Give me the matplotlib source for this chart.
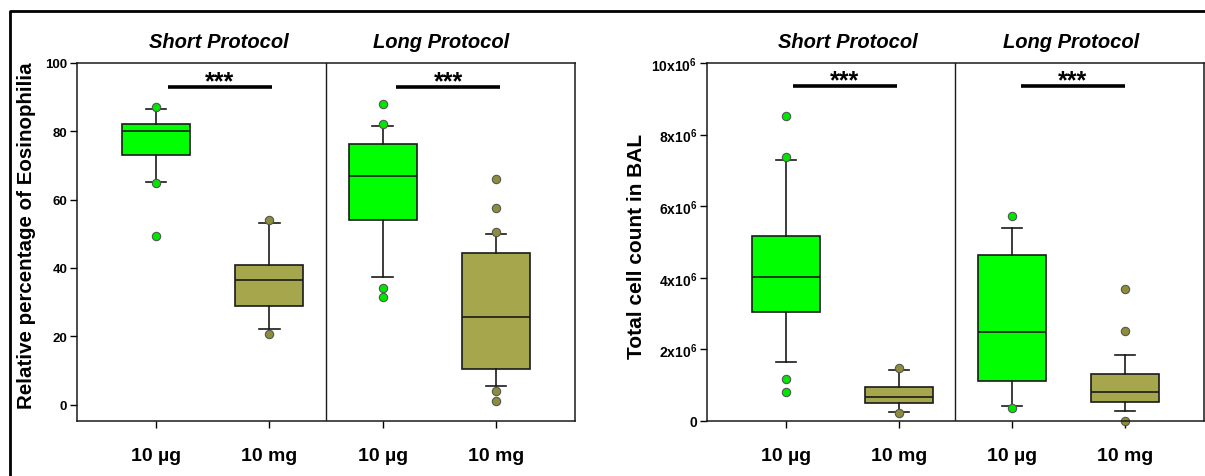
import numpy as np
import matplotlib.pyplot as plt
from matplotlib.lines import Line2D

plt.rcParams['font.family'] = ['Liberation Sans', 'DejaVu Sans']
plt.rcParams['mathtext.fontset'] = 'custom'
plt.rcParams['mathtext.bf'] = 'Liberation Sans:bold'
plt.rcParams['mathtext.rm'] = 'Liberation Sans:bold'
plt.rcParams['mathtext.default'] = 'bf'

# groups, left to right: short 10 ug, short 10 mg, long 10 ug, long 10 mg
doses = ['10 µg', '10 mg', '10 µg', '10 mg']
protocols = ['Short Protocol', 'Long Protocol']

# eosinophilia (%) box stats
eos_q1 = [73.2, 28.9, 54.1, 10.5]
eos_med = [80.0, 36.4, 66.9, 25.5]
eos_q3 = [82.2, 41.0, 76.2, 44.3]
eos_lo = [65.3, 22.2, 37.3, 5.3]
eos_hi = [86.6, 53.3, 81.5, 50.0]
eos_fliers = [[87.1, 65.0, 49.4],
              [54.1, 20.8],
              [88.1, 82.2, 34.2, 31.6],
              [65.9, 57.6, 50.5, 4.1, 1.0]]
eos_ticks = [0, 20, 40, 60, 80, 100]

# total cell count in BAL (x10^6)
bal_q1 = [3.05, 0.50, 1.11, 0.53]
bal_med = [4.01, 0.67, 2.48, 0.82]
bal_q3 = [5.17, 0.96, 4.65, 1.32]
bal_lo = [1.64, 0.24, 0.43, 0.28]
bal_hi = [7.30, 1.43, 5.40, 1.85]
bal_fliers = [[8.52, 7.37, 1.18, 0.81],
              [1.47, 0.22],
              [5.73, 0.37],
              [3.70, 2.52, 0.0]]
bal_ticks = [0, 2, 4, 6, 8, 10]
bal_tick_labels = ['0', '2x10$^{6}$', '4x10$^{6}$', '6x10$^{6}$', '8x10$^{6}$', '10x10$^{6}$']

green = '#00FF00'
olive = '#A6A64C'
box_colors = [green, olive, green, olive]
flier_faces = ['#00E600', '#8E8E3A', '#00E600', '#8E8E3A']


def make_stats(q1, med, q3, lo, hi, fl, scale=1.0):
    stats = []
    for i in range(len(q1)):
        stats.append(dict(q1=q1[i] * scale, med=med[i] * scale, q3=q3[i] * scale,
                          whislo=lo[i] * scale, whishi=hi[i] * scale,
                          fliers=np.array(fl[i]) * scale))
    return stats


def draw_panel(ax, stats, ylim, bar_y, bar_x):
    pos = np.arange(len(stats))
    bp = ax.bxp(stats, positions=pos, widths=0.6, capwidths=0.18, patch_artist=True,
                showfliers=True,
                boxprops=dict(edgecolor='#1a1a1a', linewidth=1.2),
                medianprops=dict(color='#1a1a1a', linewidth=1.2),
                whiskerprops=dict(color='#1a1a1a', linewidth=1.2),
                capprops=dict(color='#1a1a1a', linewidth=1.2))
    for i, b in enumerate(bp['boxes']):
        b.set_facecolor(box_colors[i])
    for i, f in enumerate(bp['fliers']):
        f.set(marker='o', markersize=6, markerfacecolor=flier_faces[i],
              markeredgecolor='#555555', markeredgewidth=0.8, clip_on=False)
    ax.set_xlim(-0.70, 3.70)
    ax.set_ylim(*ylim)
    ax.axvline(1.5, color='#1a1a1a', linewidth=1.0)
    ax.set_xticks(pos)
    ax.set_xticklabels(doses, fontsize=14, fontweight='bold')
    ax.tick_params(axis='x', direction='out', length=5, width=1.0, pad=14)
    ax.tick_params(axis='y', direction='out', length=5, width=1.0, pad=2)
    for s in ax.spines.values():
        s.set_linewidth(1.1)
        s.set_color('#1a1a1a')
    # significance bars
    for x0 in bar_x:
        ax.plot([x0, x0 + 0.92], [bar_y, bar_y], color='black', linewidth=2.6,
                solid_capstyle='butt', clip_on=False)
        ax.annotate('***', xy=(x0 + 0.46, bar_y), xytext=(0, -1.2),
                    textcoords='offset points', ha='center', va='baseline',
                    fontsize=18, fontweight='bold')
    for k, name in enumerate(protocols):
        ax.text(0.55 + 1.97 * k, 1.06, name, transform=ax.get_xaxis_transform(),
                ha='center', va='center', fontsize=14.5, fontweight='bold',
                fontstyle='italic')


fig = plt.figure(figsize=(12.05, 4.77), dpi=100)

ax1 = fig.add_axes([77 / 1205, 1 - 422 / 477, 498 / 1205, 358 / 477])
draw_panel(ax1, make_stats(eos_q1, eos_med, eos_q3, eos_lo, eos_hi, eos_fliers),
           (-4.8, 100), 93.0, [0.10, 2.12])
ax1.set_yticks(eos_ticks)
ax1.set_yticklabels([str(t) for t in eos_ticks], fontsize=9.5, fontweight='bold')
ax1.set_ylabel('Relative percentage of Eosinophilia', fontsize=14.8, fontweight='bold')
ax1.yaxis.set_label_coords(-0.082, 0.52)

ax2 = fig.add_axes([706.7 / 1205, 1 - 422 / 477, 497.3 / 1205, 358 / 477])
draw_panel(ax2, make_stats(bal_q1, bal_med, bal_q3, bal_lo, bal_hi, bal_fliers, 1e6),
           (0, 10e6), 9.36e6, [0.06, 2.08])
ax2.set_yticks([t * 1e6 for t in bal_ticks])
ax2.set_yticklabels(bal_tick_labels, fontsize=10, fontweight='bold')
ax2.set_ylabel('Total cell count in BAL', fontsize=15, fontweight='bold')
ax2.yaxis.set_label_coords(-0.122, 0.49)

# outer frame (top and left edges visible in the crop)
fig.add_artist(Line2D([9.5 / 1205, 9.5 / 1205, 1.0], [0.0, 1 - 11.5 / 477, 1 - 11.5 / 477],
                      transform=fig.transFigure, color='black', linewidth=2.0))

fig.savefig('out.png', dpi=100)
